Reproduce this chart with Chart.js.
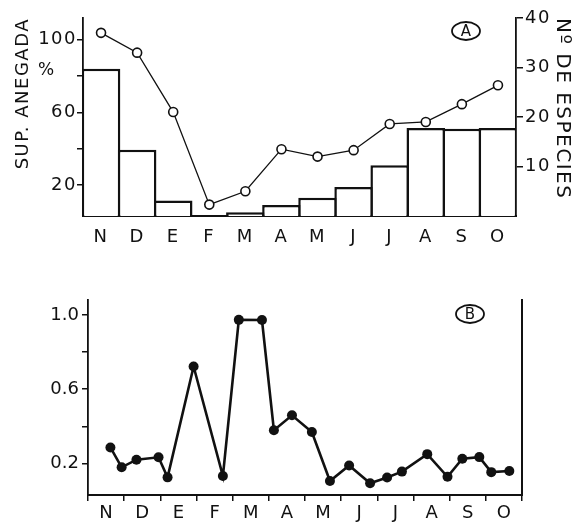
<!DOCTYPE html>
<html>
<head>
<meta charset="utf-8">
<script src="https://cdn.jsdelivr.net/npm/chart.js@4.4.1/dist/chart.umd.min.js"></script>
<style>
  body { margin: 0; background: #fff; }
  #wrapA { position: absolute; left: 0; top: 0; width: 587px; height: 255px; }
  #wrapB { position: absolute; left: 0; top: 255px; width: 587px; height: 267px; }
</style>
</head>
<body>
<div id="wrapA"><canvas id="chartA"></canvas></div>
<div id="wrapB"><canvas id="chartB"></canvas></div>
<script>
// panel A
var meses = ['N', 'D', 'E', 'F', 'M', 'A', 'M', 'J', 'J', 'A', 'S', 'O'];
var supAnegada = [84, 39.5, 11.5, 3, 5, 9, 13, 19, 31, 51.5, 51, 51.5];
var numEspecies = [37, 33, 21, 2.3, 5, 13.5, 12, 13.3, 18.6, 19, 22.6, 26.4];
var ticksSup = [20, 40, 60, 80, 100];
var etiqSup = ['20', '', '60', '', '100'];
var ticksEsp = [10, 20, 30, 40];
var etiqEsp = ['10', '20', '30', '40'];

// panel B (x = posicion en meses desde el 1 de noviembre)
var fechasB = [0.62, 0.93, 1.34, 1.95, 2.2, 2.92, 3.73, 4.17, 4.81, 5.14, 5.64, 6.19,
               6.69, 7.22, 7.8, 8.27, 8.68, 9.38, 9.94, 10.35, 10.82, 11.15, 11.65];
var valoresB = [0.286, 0.179, 0.22, 0.233, 0.125, 0.722, 0.132, 0.973, 0.972, 0.379, 0.459, 0.369,
                0.105, 0.189, 0.093, 0.124, 0.156, 0.25, 0.128, 0.225, 0.234, 0.153, 0.159];
var ticksB = [0.2, 0.4, 0.6, 0.8, 1.0];
var etiqB = ['0.2', '', '0.6', '', '1.0'];

var negro = '#111';
Chart.defaults.font.family = '"DejaVu Sans", sans-serif';
Chart.defaults.font.size = 18;
Chart.defaults.color = negro;

// letras un poco separadas, como en el rotulado original (solo panel A)
var espaciado = {
    id: 'espaciado',
    beforeUpdate: function (chart) { chart.ctx.letterSpacing = '1.5px'; },
    beforeDraw: function (chart) { chart.ctx.letterSpacing = '1.5px'; }
};

function rotulo(letra, cx, cy) {
    return {
        id: 'rotulo' + letra,
        afterDraw: function (chart) {
            var ctx = chart.ctx;
            ctx.save();
            ctx.letterSpacing = '0px';
            ctx.strokeStyle = negro;
            ctx.lineWidth = 1.8;
            ctx.beginPath();
            ctx.ellipse(cx, cy, 14, 9, 0, 0, 2 * Math.PI);
            ctx.stroke();
            ctx.fillStyle = negro;
            ctx.font = '15px "DejaVu Sans"';
            ctx.textAlign = 'center';
            ctx.textBaseline = 'middle';
            ctx.fillText(letra, cx, cy + 1);
            ctx.restore();
        }
    };
}

var porcentaje = {
    id: 'porcentaje',
    afterDraw: function (chart) {
        var ctx = chart.ctx;
        ctx.save();
        ctx.letterSpacing = '0px';
        ctx.fillStyle = negro;
        ctx.font = '17px "DejaVu Sans"';
        ctx.textAlign = 'center';
        ctx.textBaseline = 'middle';
        ctx.fillText('%', 46, 71);
        ctx.restore();
    }
};

var anchoBarra = 2.5;

new Chart(document.getElementById('chartA'), {
    data: {
        labels: meses,
        datasets: [{
            type: 'line',
            data: numEspecies,
            yAxisID: 'y1',
            order: 0,
            borderColor: negro,
            borderWidth: 1.3,
            pointRadius: 4.5,
            pointBackgroundColor: '#fff',
            pointBorderColor: negro,
            pointBorderWidth: 1.6,
            tension: 0
        }, {
            type: 'bar',
            data: supAnegada,
            yAxisID: 'y',
            order: 1,
            backgroundColor: '#fff',
            borderColor: negro,
            borderWidth: anchoBarra,
            categoryPercentage: 1,
            barPercentage: 1 + anchoBarra / 36.1
        }]
    },
    options: {
        responsive: true,
        maintainAspectRatio: false,
        animation: false,
        layout: { padding: { top: 18, left: 0, right: 0, bottom: 0 } },
        plugins: { legend: { display: false }, tooltip: { enabled: false } },
        scales: {
            x: {
                grid: { display: true, drawOnChartArea: false, drawTicks: false },
                border: { color: negro, width: 2 },
                ticks: { padding: 11, maxRotation: 0, autoSkip: false },
                afterFit: function (s) { s.height = 255 - 216; }
            },
            y: {
                position: 'left',
                min: 3,
                max: 112,
                afterBuildTicks: function (s) { s.ticks = ticksSup.map(function (v) { return { value: v }; }); },
                ticks: {
                    padding: 0,
                    callback: function (v, i) { return etiqSup[i]; }
                },
                grid: { drawOnChartArea: false, tickLength: 6, color: negro, lineWidth: 1.5 },
                border: { color: negro, width: 1.8 },
                title: { display: true, text: 'SUP. ANEGADA', align: 'end', font: { size: 18 }, padding: { top: 13 } },
                afterFit: function (s) { s.width = 83; }
            },
            y1: {
                position: 'right',
                min: 0,
                max: 40,
                afterBuildTicks: function (s) { s.ticks = ticksEsp.map(function (v) { return { value: v }; }); },
                ticks: {
                    padding: 2,
                    callback: function (v, i) { return etiqEsp[i]; }
                },
                grid: { drawOnChartArea: false, tickLength: 7, color: negro, lineWidth: 1.5 },
                border: { color: negro, width: 1.8 },
                title: { display: true, text: 'Nº DE ESPECIES', align: 'end', font: { size: 20 }, padding: { top: 13 } },
                afterFit: function (s) { s.width = 587 - 516; }
            }
        }
    },
    plugins: [espaciado, rotulo('A', 466, 31), porcentaje]
});

new Chart(document.getElementById('chartB'), {
    type: 'line',
    data: {
        datasets: [{
            data: fechasB.map(function (x, i) { return { x: x, y: valoresB[i] }; }),
            borderColor: negro,
            borderWidth: 2.6,
            pointRadius: 5,
            pointBackgroundColor: negro,
            pointBorderColor: negro,
            pointBorderWidth: 0,
            tension: 0
        }]
    },
    options: {
        responsive: true,
        maintainAspectRatio: false,
        animation: false,
        layout: { padding: { top: 45, left: 0, right: 0, bottom: 0 } },
        plugins: { legend: { display: false }, tooltip: { enabled: false } },
        scales: {
            x: {
                type: 'linear',
                min: 0,
                max: 12,
                afterBuildTicks: function (s) { s.ticks = meses.map(function (m, i) { return { value: i + 0.5 }; }); },
                ticks: {
                    padding: 2,
                    maxRotation: 0,
                    autoSkip: false,
                    callback: function (v, i) { return meses[i]; }
                },
                grid: { offset: true, drawOnChartArea: false, tickLength: 6, color: negro, lineWidth: 1.5 },
                border: { color: negro, width: 2 },
                afterFit: function (s) { s.height = 267 - 240; }
            },
            y: {
                position: 'left',
                min: 0.03,
                max: 1.08,
                afterBuildTicks: function (s) { s.ticks = ticksB.map(function (v) { return { value: v }; }); },
                ticks: {
                    padding: 3,
                    callback: function (v, i) { return etiqB[i]; }
                },
                grid: { drawOnChartArea: false, tickLength: 6, color: negro, lineWidth: 1.5 },
                border: { color: negro, width: 1.8 },
                afterFit: function (s) { s.width = 88; }
            },
            y2: {
                position: 'right',
                min: 0,
                max: 1,
                ticks: { display: false },
                grid: { display: false },
                border: { color: negro, width: 2 },
                afterFit: function (s) { s.width = 587 - 522; }
            }
        }
    },
    plugins: [rotulo('B', 470, 59)]
});
</script>
</body>
</html>
